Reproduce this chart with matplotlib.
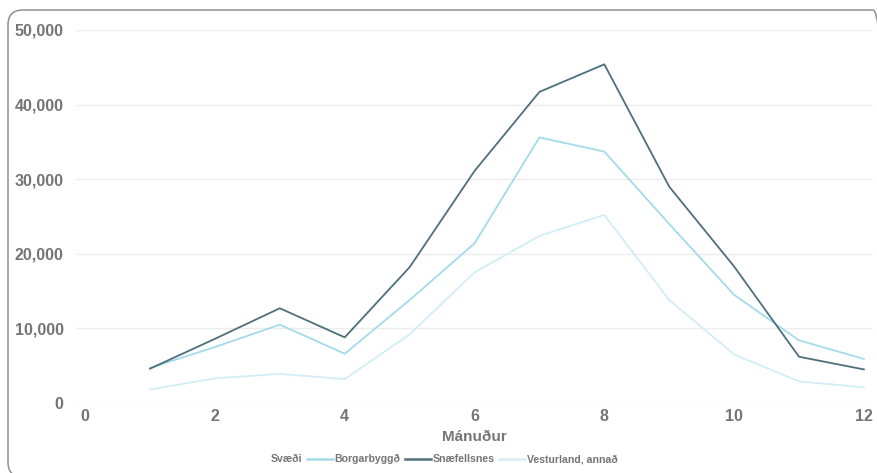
import matplotlib
matplotlib.use("Agg")
import matplotlib.pyplot as plt
from matplotlib.patches import FancyBboxPatch
from matplotlib.lines import Line2D
from matplotlib.ticker import FuncFormatter

months = [1, 2, 3, 4, 5, 6, 7, 8, 9, 10, 11, 12]
borgarbyggd = [4700, 7500, 10500, 6600, 13800, 21400, 35600, 33700, 24000, 14500, 8400, 5900]
snaefellsnes = [4600, 8600, 12700, 8800, 18200, 31100, 41700, 45400, 29000, 18300, 6200, 4500]
vesturland = [1800, 3300, 3900, 3200, 9200, 17500, 22400, 25200, 13800, 6500, 2900, 2100]
series_names = ["Borgarbyggð", "Snæfellsnes", "Vesturland, annað"]
colors = ["#a3dbea", "#4e6f7c", "#d2edf6"]
legend_title = "Svæði"
x_label = "Mánuður"
x_ticks = [0, 2, 4, 6, 8, 10, 12]
y_ticks = [0, 10000, 20000, 30000, 40000, 50000]

plt.rcParams["font.family"] = ["Liberation Sans", "DejaVu Sans"]
txt = "#757575"
W, H = 878, 473
fig = plt.figure(figsize=(W / 100, H / 100), dpi=100)
fig.patch.set_facecolor("white")
x0, y0, x1, y1 = 8, -4, 888, 463  # pixel box (y from bottom)
border = FancyBboxPatch((x0 / W, y0 / H), (x1 - x0) / W, (y1 - y0) / H,
                        boxstyle="round,pad=0,rounding_size=0.017",
                        transform=fig.transFigure, facecolor="none", edgecolor="#8f8f8f",
                        linewidth=1.1, mutation_aspect=W / H)
fig.patches.append(border)

ax = fig.add_axes([0.0866, 0.148, 0.9077, 0.7886])
for vals, c in zip([borgarbyggd, snaefellsnes, vesturland], colors):
    ax.plot(months, vals, color=c, linewidth=1.3)

ax.set_xlim(-0.14, 12.14)
ax.set_ylim(0, 50000)
ax.set_xticks(x_ticks)
ax.set_yticks(y_ticks)
ax.yaxis.set_major_formatter(FuncFormatter(lambda v, p: f"{int(v):,}"))
ax.grid(axis="y", color="#ececec", linewidth=1)
ax.set_axisbelow(True)
for s in ax.spines.values():
    s.set_visible(False)
ax.tick_params(length=0, labelsize=11.5, labelcolor=txt)
ax.tick_params(axis="y", pad=9)
ax.tick_params(axis="x", pad=4)
for lab in ax.get_xticklabels() + ax.get_yticklabels():
    lab.set_fontweight("bold")
ax.set_xlabel(x_label, fontsize=11, fontweight="bold", color=txt, labelpad=5)

handles = [Line2D([], [], color="none")] + [Line2D([], [], color=c, linewidth=1.8) for c in colors]
labels = [legend_title] + series_names
leg = fig.legend(handles, labels, loc="center", bbox_to_anchor=(0.49, 0.029), ncol=4,
                 frameon=False, handlelength=2.5, handletextpad=0.15, columnspacing=0.4,
                 prop={"size": 7.6, "weight": "bold"})
for t in leg.get_texts():
    t.set_color(txt)
fig.savefig("out.png", dpi=100)
